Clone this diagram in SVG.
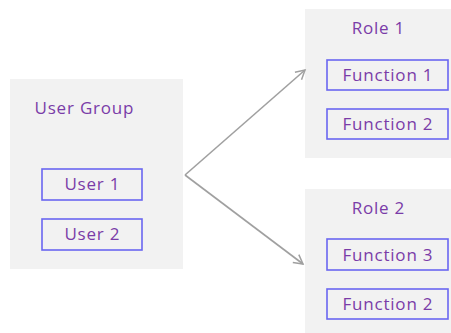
<svg xmlns="http://www.w3.org/2000/svg" width="451" height="333" viewBox="0 0 451 333">
<defs>
<marker id="arr" markerWidth="12" markerHeight="12" refX="10" refY="6" orient="auto" markerUnits="userSpaceOnUse">
<path d="M1,1 L10,6 L1,11" fill="none" stroke="#a0a0a0" stroke-width="1.5"/>
</marker>
</defs>
<style>
.grp{fill:#f2f2f2;}
.box{fill:#f2f2f2;stroke:#6a66f0;stroke-width:1.6;}
.t{font-family:"Open Sans","Liberation Sans",sans-serif;font-size:17px;letter-spacing:0.8px;fill:#7a3ca8;text-anchor:middle;}
.c{fill:none;stroke:#a0a0a0;stroke-width:1.6;}
</style>
<rect width="451" height="333" fill="#ffffff"/>
<g id="user-group">
<rect class="grp" x="10" y="79" width="173" height="190"/>
<text class="t" x="84.4" y="114">User Group</text>
</g>
<g id="user1">
<rect class="box" x="42" y="169" width="100" height="31"/>
<text class="t" x="92.4" y="190">User 1</text>
</g>
<g id="user2">
<rect class="box" x="42" y="219" width="100" height="31"/>
<text class="t" x="92.4" y="240">User 2</text>
</g>
<g id="role1">
<rect class="grp" x="305" y="9" width="146" height="149"/>
<text class="t" x="378.4" y="34">Role 1</text>
</g>
<g id="function1">
<rect class="box" x="327" y="60" width="121" height="30"/>
<text class="t" x="387.9" y="81">Function 1</text>
</g>
<g id="function2a">
<rect class="box" x="327" y="109" width="121" height="30"/>
<text class="t" x="387.9" y="130">Function 2</text>
</g>
<g id="role2">
<rect class="grp" x="305" y="189" width="146" height="144"/>
<text class="t" x="378.4" y="214">Role 2</text>
</g>
<g id="function3">
<rect class="box" x="327" y="239" width="121" height="31"/>
<text class="t" x="387.9" y="261">Function 3</text>
</g>
<g id="function2b">
<rect class="box" x="327" y="289" width="121" height="30"/>
<text class="t" x="387.9" y="310">Function 2</text>
</g>
<g id="connectors">
<path class="c" d="M185,175 L305,70" marker-end="url(#arr)"/>
<path class="c" d="M185,175 L303,264" marker-end="url(#arr)"/>
</g>
</svg>
